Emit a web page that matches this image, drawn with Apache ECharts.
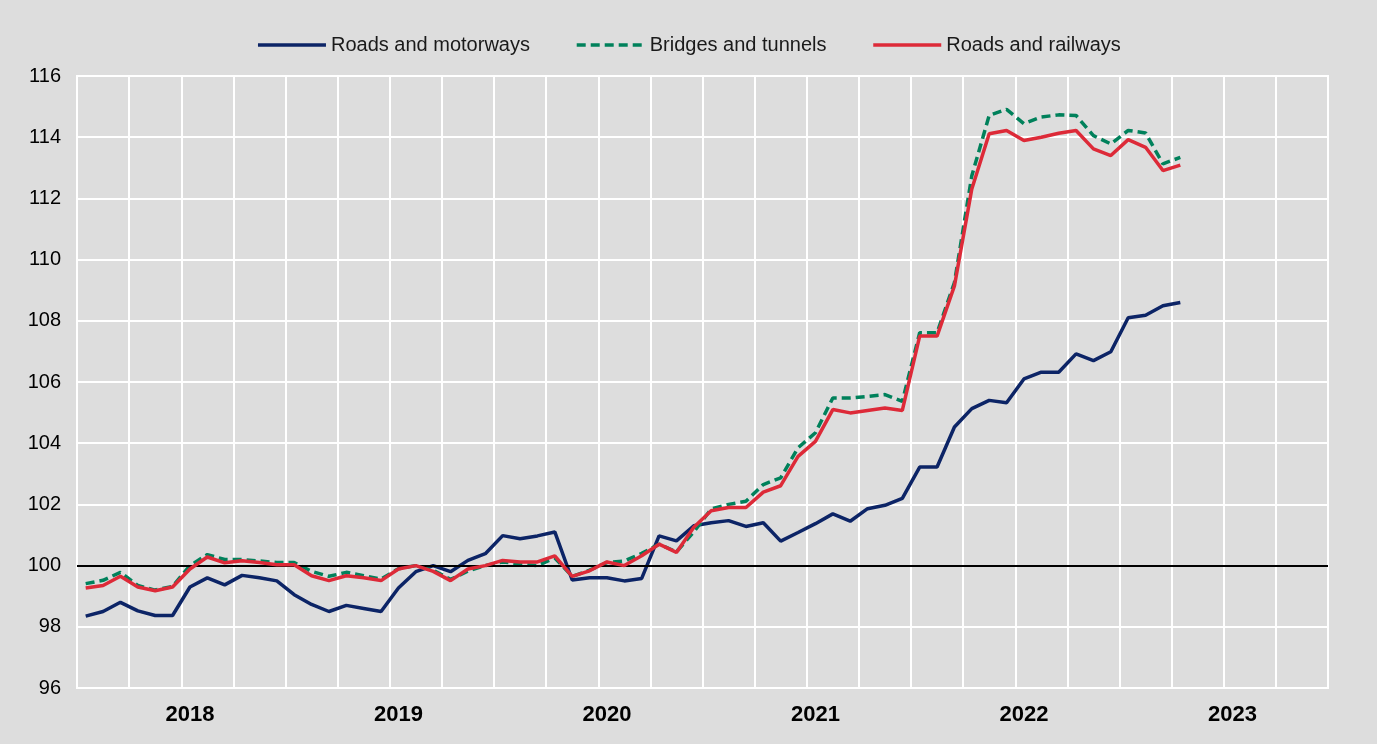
<!DOCTYPE html>
<html>
<head>
<meta charset="utf-8">
<script src="https://cdn.jsdelivr.net/npm/echarts@6/dist/echarts.min.js"></script>
<style>
  html, body { margin: 0; padding: 0; background: #dddddd; }
  #chart { width: 1377px; height: 744px; }
</style>
</head>
<body>
<div id="chart"></div>
<script>
// monthly axis, Jul 2017 .. Jun 2023
const startYear = 2017;
const startMonth = 7;
const monthCount = 72;
const yearTicks = [96, 98, 100, 102, 104, 106, 108, 110, 112, 114, 116];

const roadsMotorways = [
  98.35, 98.5, 98.8, 98.52, 98.37, 98.37, 99.3, 99.6, 99.37, 99.68, 99.6, 99.5,
  99.05, 98.73, 98.5, 98.7, 98.6, 98.5, 99.27, 99.8, 100.0, 99.8, 100.17, 100.39,
  100.98, 100.88, 100.97, 101.1, 99.53, 99.6, 99.6, 99.5, 99.58, 100.97, 100.81, 101.3,
  101.4, 101.47, 101.28, 101.4, 100.8, 101.08, 101.37, 101.69, 101.45, 101.86, 101.97, 102.2,
  103.22, 103.22, 104.53, 105.13, 105.4, 105.32, 106.1, 106.32, 106.32, 106.92, 106.7, 106.99,
  108.1, 108.18, 108.49, 108.6
];
const bridgesTunnels = [
  99.41, 99.52, 99.78, 99.35, 99.2, 99.32, 100.0, 100.36, 100.2, 100.2, 100.15, 100.1,
  100.1, 99.81, 99.65, 99.78, 99.67, 99.56, 99.9, 100.0, 99.85, 99.55, 99.82, 100.0,
  100.12, 100.05, 100.0, 100.25, 99.65, 99.85, 100.1, 100.15, 100.4, 100.7, 100.45, 101.1,
  101.85, 102.0, 102.1, 102.65, 102.87, 103.85, 104.34, 105.48, 105.48, 105.53, 105.59, 105.37,
  107.61, 107.61, 109.25, 112.74, 114.71, 114.91, 114.44, 114.66, 114.73, 114.71, 114.05, 113.78,
  114.22, 114.14, 113.13, 113.34
];
const roadsRailways = [
  99.27, 99.35, 99.65, 99.3, 99.18, 99.3, 99.89, 100.28, 100.09, 100.16, 100.1, 100.03,
  100.03, 99.67, 99.51, 99.67, 99.6, 99.51, 99.89, 100.0, 99.81, 99.51, 99.89, 100.0,
  100.17, 100.12, 100.12, 100.32, 99.65, 99.83, 100.12, 100.0, 100.32, 100.7, 100.43, 101.25,
  101.79, 101.9, 101.9, 102.4, 102.61, 103.57, 104.06, 105.1, 104.99, 105.07, 105.15, 105.07,
  107.5, 107.5, 109.14, 112.31, 114.11, 114.22, 113.89, 114.0, 114.13, 114.22, 113.62, 113.4,
  113.92, 113.67, 112.91, 113.09
];

const months = [];
for (let i = 0; i < monthCount; i++) {
  const m = startMonth - 1 + i;
  const y = startYear + Math.floor(m / 12);
  months.push(y + '-' + String((m % 12) + 1).padStart(2, '0'));
}

const narrow = "'Liberation Sans Narrow', 'Arial Narrow', 'Liberation Sans', Arial, sans-serif";
const regular = "'Liberation Sans', Arial, sans-serif";

const chart = echarts.init(document.getElementById('chart'));
chart.setOption({
  backgroundColor: '#dddddd',
  animation: false,
  legend: {
    top: 30,
    left: 'center',
    itemWidth: 68,
    itemHeight: 14,
    itemGap: 45,
    itemStyle: { opacity: 0 },
    lineStyle: { width: 3.5 },
    textStyle: { fontFamily: regular, fontSize: 20, color: '#1a1a1a' },
    data: ['Roads and motorways', 'Bridges and tunnels', 'Roads and railways']
  },
  grid: {
    left: 77, right: 49, top: 76, bottom: 56,
    show: true,
    backgroundColor: '#dddddd',
    borderColor: '#ffffff',
    borderWidth: 2
  },
  xAxis: {
    type: 'category',
    data: months,
    boundaryGap: true,
    axisLine: { show: false },
    axisTick: { show: false },
    axisLabel: {
      interval: function (i) { return i % 12 === 6; },
      formatter: function (v) { return v.slice(0, 4); },
      fontFamily: narrow,
      fontWeight: 'bold',
      fontSize: 22,
      color: '#000',
      margin: 16
    },
    splitLine: {
      show: true,
      interval: function (i) { return i % 3 === 0; },
      lineStyle: { color: '#ffffff', width: 2 }
    }
  },
  yAxis: {
    type: 'value',
    min: yearTicks[0],
    max: yearTicks[yearTicks.length - 1],
    interval: 2,
    axisLine: { show: false },
    axisTick: { show: false },
    axisLabel: {
      fontFamily: narrow,
      fontSize: 20,
      color: '#000',
      margin: 16
    },
    splitLine: { lineStyle: { color: '#ffffff', width: 2 } }
  },
  series: [
    {
      name: 'Roads and motorways',
      type: 'line',
      data: roadsMotorways,
      symbol: 'none',
      lineStyle: { color: '#0c2466', width: 3.5 },
      itemStyle: { color: '#0c2466' },
      markLine: {
        silent: true,
        symbol: 'none',
        label: { show: false },
        lineStyle: { color: '#000', width: 2, type: 'solid' },
        data: [{ yAxis: 100 }]
      },
      z: 3
    },
    {
      name: 'Bridges and tunnels',
      type: 'line',
      data: bridgesTunnels,
      symbol: 'none',
      lineStyle: { color: '#00815b', width: 3.5, type: [9, 5] },
      itemStyle: { color: '#00815b' },
      z: 4
    },
    {
      name: 'Roads and railways',
      type: 'line',
      data: roadsRailways,
      symbol: 'none',
      lineStyle: { color: '#dd2a38', width: 3.5 },
      itemStyle: { color: '#dd2a38' },
      z: 5
    }
  ]
});
</script>
</body>
</html>
